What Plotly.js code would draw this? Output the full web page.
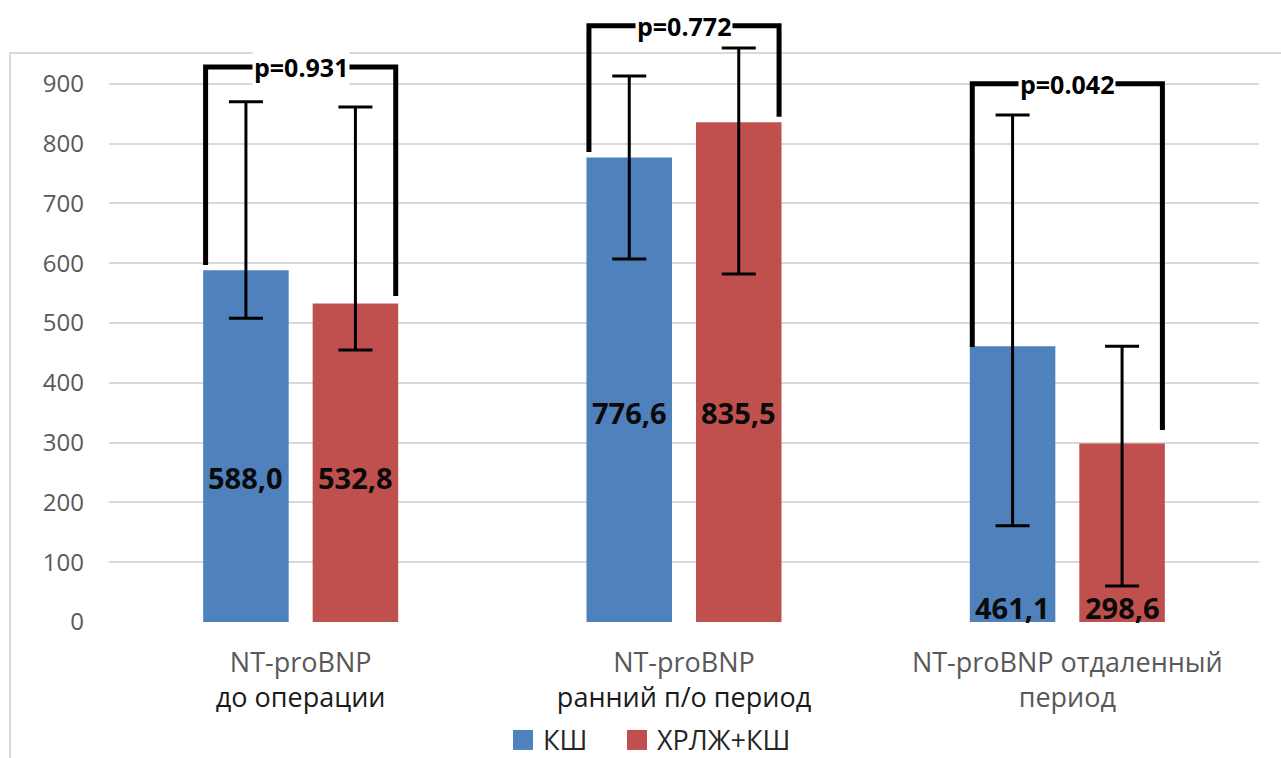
<!DOCTYPE html>
<html>
<head>
<meta charset="utf-8">
<script src="https://cdn.plot.ly/plotly-3.0.1.min.js"></script>
<style>
  html, body { margin: 0; padding: 0; background: #ffffff; }
  #chart { width: 1281px; height: 758px; }
</style>
</head>
<body>
<div id="chart"></div>
<script>
// ---- data ----
const categories = ['до операции', 'ранний п/о период', 'отдаленный период'];
const tickLabels = [
  'NT-proBNP<br><span style="color:#1a1a1a">до операции</span>',
  'NT-proBNP<br><span style="color:#1a1a1a">ранний п/о период</span>',
  'NT-proBNP отдаленный<br>период'
];
const seriesNames = ['КШ', 'ХРЛЖ+КШ'];
const ksValues = [588.0, 776.6, 461.1];
const hrlzValues = [532.8, 835.5, 298.6];
const ksUpper = [870, 913, 848];
const ksLower = [508, 607, 161];
const hrlzUpper = [861, 960, 461];
const hrlzLower = [455, 582, 60];
const ksLabels = ['588,0', '776,6', '461,1'];
const hrlzLabels = ['532,8', '835,5', '298,6'];
const ksLabelAnchor = [241, 351, 25];
const hrlzLabelAnchor = [241, 351, 25];
const pLabels = ['p=0.931', 'p=0.772', 'p=0.042'];
const bracketTop = [928, 997, 900];
const bracketLeftEnd = [597, 786, 460];
const bracketRightEnd = [545, 845, 321];
const yTicks = [0, 100, 200, 300, 400, 500, 600, 700, 800, 900];

// ---- style ----
const BLUE = '#4F81BD';
const RED = '#C0504D';
const BARGAP = 0.4287;
const slot = (1 - BARGAP) / 2;     // width of one bar slot in category units
const barOffset = slot / 2;        // center offset of each bar from category center
const legHalf = 0.248;             // bracket leg offset from category center

function errArrays(vals, up, lo) {
  return {
    type: 'data', symmetric: false,
    array: vals.map((v, i) => up[i] - v),
    arrayminus: vals.map((v, i) => v - lo[i]),
    color: '#000000', thickness: 3, width: 17
  };
}

const traces = [
  {
    type: 'bar', name: seriesNames[0], x: categories, y: ksValues,
    marker: { color: BLUE }, error_y: errArrays(ksValues, ksUpper, ksLower),
    hoverinfo: 'y'
  },
  {
    type: 'bar', name: seriesNames[1], x: categories, y: hrlzValues,
    marker: { color: RED }, error_y: errArrays(hrlzValues, hrlzUpper, hrlzLower),
    hoverinfo: 'y'
  }
];

const annotations = [];
const shapes = [];

// outer chart frame
shapes.push({
  type: 'rect', xref: 'paper', yref: 'paper',
  x0: -0.0861, x1: 1.04, y0: 0.942, y1: -0.3,
  line: { color: '#d9d9d9', width: 2 }, layer: 'below'
});

categories.forEach((c, i) => {
  annotations.push({
    x: i - barOffset, y: ksLabelAnchor[i], xref: 'x', yref: 'y',
    text: '<b>' + ksLabels[i] + '</b>', showarrow: false,
    font: { family: 'Open Sans, sans-serif', size: 29, color: '#0a0a0a' }
  });
  annotations.push({
    x: i + barOffset, y: hrlzLabelAnchor[i], xref: 'x', yref: 'y',
    text: '<b>' + hrlzLabels[i] + '</b>', showarrow: false,
    font: { family: 'Open Sans, sans-serif', size: 29, color: '#0a0a0a' }
  });
  const xl = i - legHalf, xr = i + legHalf;
  shapes.push({
    type: 'path', xref: 'x2', yref: 'y',
    path: 'M' + xl + ',' + bracketLeftEnd[i] + ' L' + xl + ',' + bracketTop[i] +
          ' L' + xr + ',' + bracketTop[i] + ' L' + xr + ',' + bracketRightEnd[i],
    line: { color: '#000000', width: 5 }, layer: 'above'
  });
  annotations.push({
    x: i, y: bracketTop[i], xref: 'x2', yref: 'y',
    text: '<b>' + pLabels[i] + '</b>', showarrow: false,
    bgcolor: '#ffffff', borderpad: 1,
    font: { family: 'Open Sans, sans-serif', size: 25, color: '#000000' }
  });
});

const layout = {
  width: 1281, height: 758,
  margin: { l: 109, r: 22, t: 18, b: 136, autoexpand: false },
  paper_bgcolor: '#ffffff', plot_bgcolor: '#ffffff',
  barmode: 'group', bargap: BARGAP, bargroupgap: 0.219,
  font: { family: 'Open Sans, sans-serif', color: '#595959' },
  xaxis: {
    type: 'category', tickvals: categories, ticktext: tickLabels,
    range: [-0.5, 2.5], showgrid: false, zeroline: false, showline: false,
    automargin: false,
    ticks: '', tickfont: { size: 27, color: '#595959' }, ticklabelstandoff: 22
  },
  xaxis2: {
    overlaying: 'x', range: [-0.5, 2.5], visible: false, type: 'linear'
  },
  yaxis: {
    range: [0, 1010], tickvals: yTicks, ticktext: yTicks.map(String),
    showgrid: true, gridcolor: '#d9d9d9', gridwidth: 2, zeroline: false,
    showline: false, ticks: '', ticklabelstandoff: 24, automargin: false,
    tickfont: { size: 24, color: '#595959' }
  },
  showlegend: true,
  legend: {
    orientation: 'h', x: 0.3426, xanchor: 'left', y: -0.196, yanchor: 'middle',
    entrywidth: 69, entrywidthmode: 'pixels',
    font: { size: 27, color: '#262626' }, itemclick: false, traceorder: 'normal'
  },
  annotations: annotations,
  shapes: shapes
};

Plotly.newPlot('chart', traces, layout, { displayModeBar: false, staticPlot: true }).then(function () {
  document.querySelectorAll('#chart .legend .legendpoints path').forEach(function (p) {
    p.setAttribute('d', 'M10,10H-10V-10H10Z');
  });
  document.querySelectorAll('#chart .legend [clip-path]').forEach(function (el) {
    el.removeAttribute('clip-path');
  });
});
</script>
</body>
</html>
